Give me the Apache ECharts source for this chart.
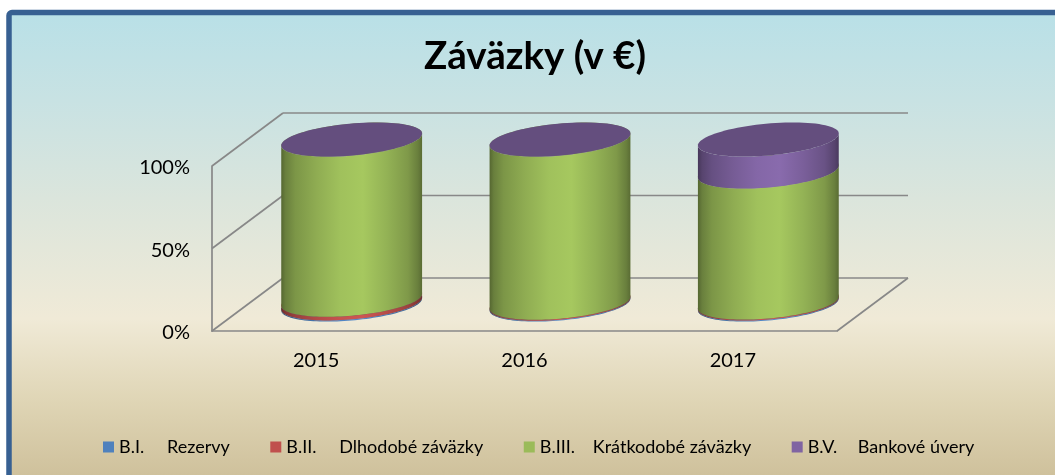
<!DOCTYPE html>
<html>
<head>
<meta charset="utf-8">
<style>html,body{margin:0;padding:0;background:#fff}#c{width:1055px;height:475px}</style>
<script src="https://cdn.jsdelivr.net/npm/echarts@6/dist/echarts.min.js"></script>
</head>
<body>
<div id="c"></div>
<script>
const titleText = 'Záväzky (v €)';
const categories = ['2015', '2016', '2017'];
const legendCodes = ['B.I.', 'B.II.', 'B.III.', 'B.V.'];
const legendNames = ['Rezervy', 'Dlhodobé záväzky', 'Krátkodobé záväzky', 'Bankové úvery'];
const seriesColors = ['#4f81bd', '#c0504d', '#9bbb59', '#8064a2'];
const rezervy = [0.7, 0.5, 0.6];
const dlhodobe = [2.2, 0.6, 0.6];
const kratkodobe = [97.0, 98.8, 79.4];
const bankove = [0.1, 0.1, 19.4];
const valueTicks = [0, 50, 100];

const allValues = [rezervy, dlhodobe, kratkodobe, bankove];
const DEPTH_X = 71, DEPTH_Y = -53;
const SHEAR = -6 / 70.5, MINOR = 16 / 70.5;

function shade(hex, f) {
  const n = parseInt(hex.slice(1), 16);
  const c = [n >> 16, (n >> 8) & 255, n & 255].map(v => Math.min(255, Math.round(v * f)));
  return 'rgb(' + c.join(',') + ')';
}
function sideFill(hex) {
  const stops = [[0, .55], [.03, .68], [.1, .8], [.25, .92], [.42, 1.03], [.58, 1.07], [.75, .95], [.9, .82], [.97, .68], [1, .58]];
  return new echarts.graphic.LinearGradient(0, 0, 1, 0, stops.map(s => ({offset: s[0], color: shade(hex, s[1])})));
}
function ellipsePt(cx, cy, rx, t) {
  return [cx + rx * Math.cos(t), cy + rx * (SHEAR * Math.cos(t) + MINOR * Math.sin(t))];
}
function cylinderSeries(idx) {
  const data = categories.map((c, i) => {
    let base = 0;
    for (let k = 0; k < idx; k++) base += allValues[k][i];
    return [i, base, base + allValues[idx][i]];
  });
  return {
    type: 'custom',
    name: legendCodes[idx] + '\t' + legendNames[idx],
    itemStyle: {color: seriesColors[idx]},
    encode: {x: 0, y: [1, 2]},
    data,
    z: 5 + idx,
    renderItem(params, api) {
      const low = api.coord([api.value(0), api.value(1)]);
      const high = api.coord([api.value(0), api.value(2)]);
      const rx = api.size([1, 0])[0] * 0.338;
      const cx = low[0] + DEPTH_X / 2;
      const y0 = low[1] + DEPTH_Y / 2, y1 = high[1] + DEPTH_Y / 2;
      const pts = [];
      const N = 60;
      for (let j = 0; j <= N; j++) pts.push(ellipsePt(cx, y0, rx, Math.PI * j / N));
      for (let j = N; j >= 0; j--) pts.push(ellipsePt(cx, y1, rx, Math.PI * j / N));
      const cap = [];
      for (let j = 0; j < 90; j++) cap.push(ellipsePt(cx, y1, rx, 2 * Math.PI * j / 90));
      return {
        type: 'group',
        children: [
          {type: 'polygon', shape: {points: pts}, style: {fill: sideFill(seriesColors[idx])}},
          {type: 'polygon', shape: {points: cap}, style: {fill: shade(seriesColors[idx], 0.78)}}
        ]
      };
    }
  };
}
const wallSeries = {
  type: 'custom',
  silent: true,
  z: 1,
  legendHoverLink: false,
  data: valueTicks.map(v => [0, v]),
  encode: {y: 1},
  renderItem(params, api) {
    const p = api.coord([0, api.value(1)]);
    const x0 = params.coordSys.x, x1 = x0 + params.coordSys.width;
    const st = {stroke: '#888888', lineWidth: 1.7, fill: 'none'};
    const bx = x0 + DEPTH_X, by = p[1] + DEPTH_Y;
    const kids = [
      {type: 'line', shape: {x1: x0, y1: p[1], x2: bx, y2: by}, style: st},
      {type: 'line', shape: {x1: bx, y1: by, x2: x1 + DEPTH_X, y2: by}, style: st}
    ];
    if (api.value(1) === 0) kids.push({type: 'line', shape: {x1: x1, y1: p[1], x2: x1 + DEPTH_X, y2: by}, style: st});
    return {type: 'group', children: kids};
  }
};

const chart = echarts.init(document.getElementById('c'), null, {renderer: 'canvas'});
chart.setOption({
  animation: false,
  backgroundColor: '#fff',
  textStyle: {fontFamily: 'Lato'},
  title: {
    text: titleText, left: 530, top: 32, textAlign: 'center',
    textStyle: {fontFamily: 'Lato', fontWeight: 'bold', fontSize: 38.5, color: '#000'}
  },
  graphic: [{
    type: 'rect', silent: true, z: -10,
    shape: {x: 9, y: 12.5, width: 1070, height: 490, r: 3},
    style: {
      stroke: '#376092', lineWidth: 5.5,
      fill: new echarts.graphic.LinearGradient(0, 15, 0, 475, [
        {offset: 0, color: '#b9e0e7'},
        {offset: 0.185, color: '#c8e2e3'},
        {offset: 0.4, color: '#dbe5dc'},
        {offset: 0.66, color: '#f0ead7'},
        {offset: 0.84, color: '#dfd5b5'},
        {offset: 1, color: '#cfc19c'}
      ], true)
    }
  }],
  legend: {
    left: 103, top: 438, padding: 0,
    itemWidth: 11, itemHeight: 11, itemGap: 40.5,
    icon: 'rect',
    data: legendCodes.map((c, i) => c + '\t' + legendNames[i]),
    formatter: n => {
      const p = n.split('\t');
      return '{c' + legendCodes.indexOf(p[0]) + '|' + p[0] + '}{n|' + p[1] + '}';
    },
    textStyle: {
      fontFamily: 'Lato', fontSize: 18, color: '#000',
      rich: {
        c0: {width: 48, fontFamily: 'Lato', fontSize: 18},
        c1: {width: 53, fontFamily: 'Lato', fontSize: 18},
        c2: {width: 53, fontFamily: 'Lato', fontSize: 18},
        c3: {width: 50, fontFamily: 'Lato', fontSize: 18},
        n: {fontFamily: 'Lato', fontSize: 18}
      }
    }
  },
  grid: {left: 212, top: 166, width: 625, height: 165},
  xAxis: {
    type: 'category', data: categories,
    axisLine: {lineStyle: {color: '#888888', width: 1.7}},
    axisTick: {show: false},
    axisLabel: {color: '#000', fontFamily: 'Lato', fontSize: 20, margin: 20},
    splitLine: {show: false}
  },
  yAxis: {
    type: 'value', min: 0, max: 100, interval: 50,
    axisLine: {show: true, lineStyle: {color: '#888888', width: 1.7}},
    axisTick: {show: false},
    axisLabel: {
      color: '#000', fontFamily: 'Lato', fontSize: 20, margin: 22,
      formatter: '{v|{value}%}',
      rich: {v: {fontFamily: 'Lato', fontSize: 20, color: '#000', padding: [4, 0, 0, 0]}}
    },
    splitLine: {show: false}
  },
  series: [wallSeries].concat(legendCodes.map((c, i) => cylinderSeries(i)))
});
</script>
</body>
</html>
